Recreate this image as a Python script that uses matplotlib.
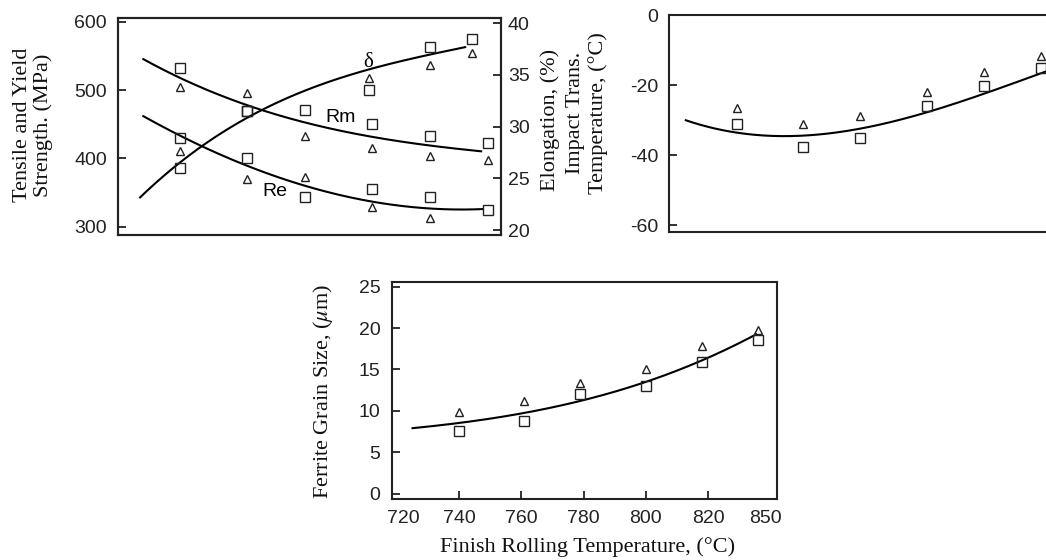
import matplotlib
matplotlib.use('Agg')
import matplotlib.pyplot as plt
import numpy as np

# finish rolling temperature of the specimens (axis units)
temps = [740, 761, 779, 800, 818, 836]
delta_temps = [740, 761, 799, 818, 831]
delta_tri_temps = [799, 818, 831]

# tensile (Rm) and yield (Re) strength, MPa
rm_sq = [532, 469, 471, 450, 432, 422]
rm_tri = [505, 495, 433, 415, 404, 397]
re_sq = [429, 400, 343, 355, 343, 325]
re_tri = [410, 369, 373, 328, 313]
# elongation, %
d_sq = [26.0, 31.5, 33.5, 37.7, 38.5]
d_tri = [34.7, 36.0, 37.1]

# trend lines
rm_curve_t = [728.5, 746, 766, 771, 799, 818, 834]
rm_curve_v = [546, 503, 471, 463, 433, 417, 411]
re_curve_t = [728.5, 746, 760, 774, 799, 818, 834.5]
re_curve_v = [462, 418, 393, 366, 337, 327, 325.5]
d_curve_t = [727.5, 746, 766, 774, 799, 817.5, 829]
d_curve_v = [23.1, 28.1, 31.6, 32.8, 35.5, 37.1, 37.6]

# impact transition temperature, C
itt_sq = [-31.1, -37.6, -35.2, -26.0, -20.3, -15.1]
itt_tri = [-26.4, -31.1, -28.8, -22.1, -16.2, -11.7]
itt_curve_t = [724, 751.5, 774.5, 798.5, 818, 835, 837.5]
itt_curve_v = [-30.0, -34.6, -33.1, -27.9, -22.7, -16.9, -16.0]

# ferrite grain size, um
gs_sq = [7.6, 8.8, 12.0, 13.0, 15.9, 18.5]
gs_tri = [9.9, 11.2, 13.3, 15.0, 17.8, 19.8]
gs_curve_t = [725, 740, 761, 779, 799.5, 818, 835.5]
gs_curve_v = [7.9, 8.5, 9.8, 11.2, 13.3, 16.2, 19.2]

x_ticks = [740, 760, 780, 800, 820]
x_ticklabels = ['740', '760', '780', '800', '820']
x_end_ticks = [722, 838.5]
x_end_labels = ['720', '850']

W, H = 1046, 560
SANS = ['Liberation Sans', 'DejaVu Sans']
SERIF = ['Liberation Serif', 'DejaVu Serif']
plt.rcParams['font.family'] = SANS
plt.rcParams['mathtext.fontset'] = 'stix'
plt.rcParams['axes.unicode_minus'] = False

fig = plt.figure(figsize=(W / 100, H / 100), dpi=100)


def px_rect(left, top, right, bottom):
    return [left / W, 1 - bottom / H, (right - left) / W, (bottom - top) / H]


def style(ax, left=True, right=False, pad=8):
    for s in ax.spines.values():
        s.set_linewidth(1.5)
        s.set_color('#222222')
    ax.tick_params(direction='in', length=6, width=1.3, labelsize=14, pad=pad,
                   left=left, labelleft=left, right=right, labelright=right,
                   bottom=False, labelbottom=False, colors='#222222')


def trend(ax, t, v, deg=3):
    c = np.polyfit(t, v, deg)
    xs = np.linspace(min(t), max(t), 200)
    ax.plot(xs, np.polyval(c, xs), color='black', lw=1.5)


def markers(ax, t, v, m):
    ax.plot(t, v, m, ls='none', mfc='none', mec='#222222',
            ms=7 if m == 's' else 5.5, mew=1.0)


# top-left: strength and elongation
ax1 = fig.add_axes(px_rect(118, 18.3, 501, 235))
ax1.set_xlim(720.6, 840.2)
ax1.set_ylim(287.7, 605)
ax1.set_yticks([300, 400, 500, 600])
style(ax1)
trend(ax1, rm_curve_t, rm_curve_v)
trend(ax1, re_curve_t, re_curve_v)
markers(ax1, temps, rm_sq, 's')
markers(ax1, temps, rm_tri, '^')
markers(ax1, temps, re_sq, 's')
markers(ax1, temps[:5], re_tri, '^')
ax1.text(790, 460, 'Rm', ha='center', va='center', fontsize=14)
ax1.text(769.5, 351, 'Re', ha='center', va='center', fontsize=14)
ax1.text(798.7, 541, 'δ', ha='center', va='center', fontsize=15, family=SERIF)

ax2 = ax1.twinx()
ax2.set_ylim(19.52, 40.48)
ax2.set_yticks([20, 25, 30, 35, 40])
style(ax2, left=False, right=True, pad=5)
trend(ax2, d_curve_t, d_curve_v)
markers(ax2, delta_temps, d_sq, 's')
markers(ax2, delta_tri_temps, d_tri, '^')

# top-right: impact transition temperature (panel runs past the edge)
ax3 = fig.add_axes(px_rect(669.3, 15, 1054.5, 232.3))
ax3.set_xlim(718.8, 840.1)
ax3.set_ylim(-62, 0)
ax3.set_yticks([0, -20, -40, -60])
style(ax3)
trend(ax3, itt_curve_t, itt_curve_v)
markers(ax3, temps, itt_sq, 's')
markers(ax3, temps, itt_tri, '^')

# bottom: ferrite grain size
ax4 = fig.add_axes(px_rect(391.7, 281.7, 777.3, 499.3))
ax4.set_xlim(718.3, 842.3)
ax4.set_ylim(-0.7, 25.6)
ax4.set_yticks([0, 5, 10, 15, 20, 25])
style(ax4)
ax4.set_xticks(x_ticks, x_ticklabels)
ax4.set_xticks(x_end_ticks, x_end_labels, minor=True)
ax4.tick_params(axis='x', which='both', bottom=True, labelbottom=True, pad=7.5)
ax4.tick_params(axis='x', which='minor', length=0, labelsize=14, colors='#222222')
trend(ax4, gs_curve_t, gs_curve_v)
markers(ax4, temps, gs_sq, 's')
markers(ax4, temps, gs_tri, '^')

# axis titles
lab = dict(family=SERIF, fontsize=16, rotation=90, ha='center', va='center',
           multialignment='center', linespacing=1.15, color='#111111')
fig.text(33 / W, 1 - 125 / H, 'Tensile and Yield\nStrength. (MPa)', **lab)
fig.text(550 / W, 1 - 120 / H, 'Elongation, (%)', **lab)
fig.text(587 / W, 1 - 113 / H, 'Impact Trans.\nTemperature, (°C)', **lab)
fig.text(323 / W, 1 - 391 / H, r'Ferrite Grain Size, ($\mu$m)', **lab)
fig.text(588 / W, 1 - 547 / H, 'Finish Rolling Temperature, (°C)',
         family=SERIF, fontsize=16, ha='center', va='center', color='#111111')

fig.savefig('out.png', dpi=100)
